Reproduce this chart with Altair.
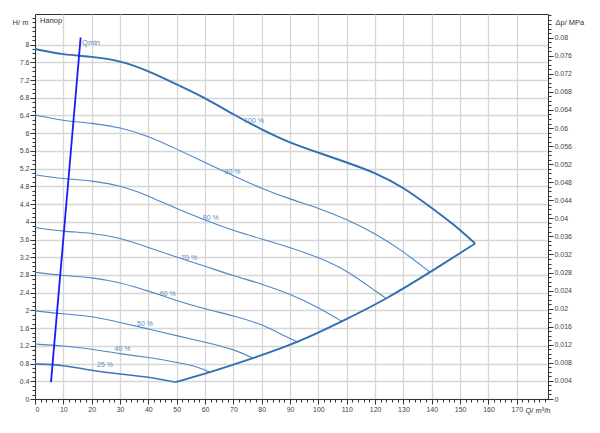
import altair as alt
import pandas as pd

# ---- data ----
c100_q = [0, 10, 20, 30, 40, 50, 60, 70, 80, 90, 100, 110, 120, 130, 140, 147.6, 155.3]
c100_h = [7.9, 7.77, 7.73, 7.64, 7.41, 7.1, 6.8, 6.42, 6.08, 5.78, 5.56, 5.34, 5.11, 4.78, 4.31, 3.95, 3.51]

c90_q = [0, 10, 20, 30, 40, 50, 60, 70, 80, 90, 100, 110, 120, 130, 139.4]
c90_h = [6.41, 6.28, 6.23, 6.13, 5.94, 5.64, 5.34, 5.04, 4.75, 4.51, 4.31, 4.06, 3.74, 3.33, 2.86]

c80_q = [0, 10, 20, 30, 40, 50, 60, 70, 80, 90, 100, 110, 117, 124.1]
c80_h = [5.06, 4.97, 4.93, 4.82, 4.59, 4.29, 4.04, 3.80, 3.61, 3.42, 3.20, 2.90, 2.58, 2.26]

c70_q = [0, 10, 20, 30, 40, 50, 60, 70, 80, 90, 100, 108.3]
c70_h = [3.87, 3.78, 3.75, 3.64, 3.42, 3.20, 3.00, 2.78, 2.60, 2.37, 2.07, 1.75]

c60_q = [0, 10, 20, 30, 40, 50, 60, 70, 80, 86.5, 93]
c60_h = [2.86, 2.78, 2.75, 2.63, 2.44, 2.22, 2.03, 1.88, 1.69, 1.47, 1.28]

c50_q = [0, 10, 20, 30, 40, 50, 60, 70, 77]
c50_h = [1.99, 1.92, 1.87, 1.73, 1.58, 1.43, 1.28, 1.13, 0.92]

c40_q = [0, 10, 20, 30, 40, 50, 58, 61.8]
c40_h = [1.24, 1.20, 1.13, 1.02, 0.94, 0.83, 0.72, 0.60]

c25_q = [0, 10, 20, 30, 40, 49.5]
c25_h = [0.79, 0.77, 0.64, 0.56, 0.50, 0.38]

env_q = [49.5, 61.8, 77, 93, 108.3, 124.1, 139.4, 155.3]
env_h = [0.38, 0.60, 0.92, 1.28, 1.75, 2.26, 2.86, 3.51]

qmin_q = [5.65, 16.1]
qmin_h = [0.38, 8.16]

pct_labels = ["100 %", "90 %", "80 %", "70 %", "60 %", "50 %", "40 %", "25 %"]
pct_q = [77.3, 69.7, 62.0, 54.4, 46.8, 38.8, 30.9, 24.7]
pct_h = [6.28, 5.13, 4.08, 3.18, 2.37, 1.69, 1.13, 0.77]

x_major = list(range(0, 171, 10))
x_minor = list(range(0, 181, 2))
y_major = [round(i * 0.4, 1) for i in range(21)]
y_minor = [round(i * 0.1, 1) for i in range(87)]
p_major = [round(i * 0.004, 3) for i in range(21)]
p_minor = [round(i * 0.001, 3) for i in range(86)]

Q_MAX = 181
H_MAX = 8.69
P_MAX = 0.08525

# ---- tables ----
thin = [("90", c90_q, c90_h), ("80", c80_q, c80_h), ("70", c70_q, c70_h),
        ("60", c60_q, c60_h), ("50", c50_q, c50_h), ("40", c40_q, c40_h)]
thick = [("100", c100_q, c100_h), ("env", env_q, env_h)]
mid = [("25", c25_q, c25_h)]


def to_df(curves):
    rows = []
    for name, qs, hs in curves:
        for i, (q, h) in enumerate(zip(qs, hs)):
            rows.append({"curve": name, "Q": q, "H": h, "i": i})
    return pd.DataFrame(rows)


df_thin = to_df(thin)
df_thick = to_df(thick)
df_mid = to_df(mid)
df_qmin = pd.DataFrame({"Q": qmin_q, "H": qmin_h})
df_lab = pd.DataFrame({"t": pct_labels, "Q": pct_q, "H": pct_h})
df_txt = pd.DataFrame({"t": ["Qmin", "Напор"], "Q": [16.6, 1.8], "H": [8.04, 8.53],
                       "c": ["q", "n"]})
df_axis = pd.DataFrame({"Q": [0], "H": [0], "P": [0]})

FONT = "Liberation Sans"
xs = alt.Scale(domain=[0, Q_MAX], nice=False, zero=False)
ys = alt.Scale(domain=[0, H_MAX], nice=False, zero=False)
ps = alt.Scale(domain=[0, P_MAX], nice=False, zero=False)

X0 = alt.X("Q:Q", scale=xs, axis=None)
Y0 = alt.Y("H:Q", scale=ys, axis=None)

common_axis = dict(domainColor="#333", tickColor="#333", labelColor="#444",
                   labelFont=FONT, labelFontSize=7, titleFont=FONT,
                   titleFontSize=7.5, titleFontWeight="normal", titleColor="#333")

# major axes + grid
ax_major = alt.Chart(df_axis).mark_point(opacity=0).encode(
    x=alt.X("Q:Q", scale=xs, axis=alt.Axis(
        orient="bottom", values=x_major, grid=True, gridColor="#d6d6d6", gridWidth=1.3,
        tickSize=5, labelPadding=1, title="Q/ m³/h", titleX=515, titleY=11.5,
        titleAlign="right", titleBaseline="middle", titleAnchor="end", **common_axis)),
    y=alt.Y("H:Q", scale=ys, axis=alt.Axis(
        orient="left", values=y_major, grid=True, gridColor="#d6d6d6", gridWidth=1.3,
        tickSize=5, labelPadding=1, format="~g", title="H/ m", titleAngle=0,
        titleX=-15, titleY=8, titleAlign="center", titleBaseline="middle", **common_axis)),
)

# minor ticks
ax_minor = alt.Chart(df_axis).mark_point(opacity=0).encode(
    x=alt.X("Q:Q", scale=xs, axis=alt.Axis(
        orient="bottom", values=x_minor, grid=False, labels=False, tickSize=3,
        domain=False, title=None, tickColor="#333")),
    y=alt.Y("H:Q", scale=ys, axis=alt.Axis(
        orient="left", values=y_minor, grid=False, labels=False, tickSize=3,
        domain=False, title=None, tickColor="#333")),
)

# right pressure axis
ax_right = alt.Chart(df_axis).mark_point(opacity=0).encode(
    x=X0,
    y=alt.Y("P:Q", scale=ps, axis=alt.Axis(
        orient="right", values=p_major, grid=False, tickSize=5, labelPadding=1,
        format="~g", title="Δp/ MPa", titleAngle=0, titleX=7, titleY=8,
        titleAlign="left", titleBaseline="middle", **common_axis)),
)
ax_right_minor = alt.Chart(df_axis).mark_point(opacity=0).encode(
    x=X0,
    y=alt.Y("P:Q", scale=ps, axis=alt.Axis(
        orient="right", values=p_minor, grid=False, labels=False, tickSize=3,
        domain=False, title=None, tickColor="#333")),
)

thin_lines = alt.Chart(df_thin).mark_line(
    color="#4a88c6", strokeWidth=1.1, interpolate="basis").encode(
    x=X0, y=Y0, detail="curve:N", order="i:Q")

mid_lines = alt.Chart(df_mid).mark_line(
    color="#3a78b8", strokeWidth=1.6, interpolate="basis").encode(
    x=X0, y=Y0, detail="curve:N", order="i:Q")

thick_lines = alt.Chart(df_thick).mark_line(
    color="#2f6fb2", strokeWidth=1.9, interpolate="basis").encode(
    x=X0, y=Y0, detail="curve:N", order="i:Q")

qmin_line = alt.Chart(df_qmin).mark_line(color="#1a1aff", strokeWidth=1.8).encode(x=X0, y=Y0)

labels = alt.Chart(df_lab).mark_text(
    font=FONT, fontSize=7, color="#5a8cc4", align="center", baseline="middle").encode(
    x=X0, y=Y0, text="t:N")

txt = alt.Chart(df_txt).mark_text(
    font=FONT, fontSize=7.5, align="left", baseline="middle").encode(
    x=X0, y=Y0, text="t:N",
    color=alt.Color("c:N", scale=alt.Scale(domain=["q", "n"], range=["#5a8cc4", "#333333"]),
                    legend=None))

chart = alt.layer(
    ax_major, ax_minor, ax_right, ax_right_minor,
    thin_lines, mid_lines, thick_lines, qmin_line, labels, txt,
).resolve_scale(y="independent").resolve_axis(x="independent", y="independent").properties(
    width=513, height=385,
    padding={"left": 27, "top": 6, "right": 44, "bottom": 26},
    autosize=alt.AutoSizeParams(type="none"),
    background="white",
).configure_view(stroke="#333", strokeWidth=1)

chart.save("out.html", embed_options={"renderer": "svg", "actions": False})
